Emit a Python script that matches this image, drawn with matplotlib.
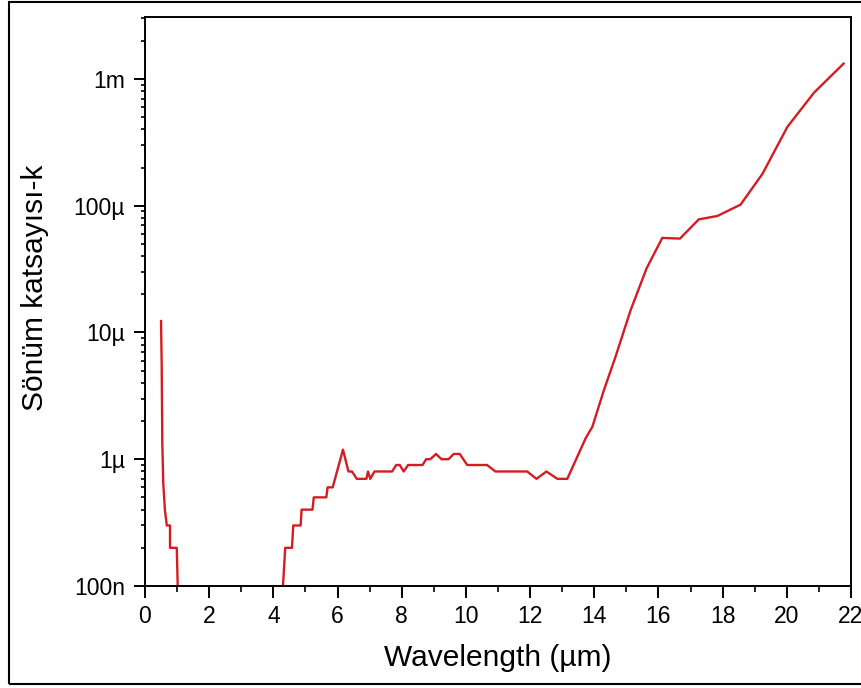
import numpy as np
import matplotlib
matplotlib.use("Agg")
import matplotlib.pyplot as plt
from matplotlib.patches import Rectangle
from matplotlib.ticker import FixedLocator, LogLocator, MultipleLocator, NullFormatter

plt.rcParams['font.family'] = ['Liberation Sans', 'DejaVu Sans']

# wavelength (um) and extinction coefficient k (in units of 1e-6)
# short-wavelength branch
wl_a = [0.50, 0.52, 0.54, 0.57, 0.62, 0.68, 0.78, 0.78, 0.99, 1.02]
k_a = [12.3, 5.7, 1.33, 0.64, 0.40, 0.30, 0.30, 0.20, 0.20, 0.10]

# long-wavelength branch
wl_b = [4.30, 4.37, 4.58, 4.62, 4.85, 4.88, 5.22, 5.26, 5.65, 5.69, 5.85,
        6.17, 6.34, 6.45, 6.60, 6.90, 6.95, 7.02, 7.15, 7.70, 7.83, 7.94,
        8.06, 8.20, 8.65, 8.76, 8.89, 9.07, 9.24, 9.46, 9.62, 9.81, 10.04,
        10.66, 10.92, 11.91, 12.20, 12.51, 12.85, 13.16, 13.73, 13.94, 14.30,
        14.66, 15.13, 15.63, 16.12, 16.67, 17.26, 17.84, 18.56, 19.24, 20.02,
        20.85, 21.77]
k_b = [0.10, 0.20, 0.20, 0.30, 0.30, 0.40, 0.40, 0.50, 0.50, 0.60, 0.60,
       1.19, 0.80, 0.80, 0.70, 0.70, 0.80, 0.70, 0.80, 0.80, 0.90, 0.90,
       0.80, 0.90, 0.90, 1.00, 1.00, 1.10, 1.00, 1.00, 1.10, 1.10, 0.90,
       0.90, 0.80, 0.80, 0.70, 0.80, 0.70, 0.70, 1.46, 1.80, 3.5,
       6.4, 14.9, 32.0, 55.7, 55.0, 78.0, 83.0, 102.0, 178.0, 419.0,
       780.0, 1320.0]

ytick_vals = [1e-7, 1e-6, 1e-5, 1e-4, 1e-3]
ytick_labels = ['100n', '1µ', '10µ', '100µ', '1m']

wl = np.array(wl_a + [np.nan] + wl_b)
k = np.array(k_a + [np.nan] + k_b) * 1e-6

fig = plt.figure(figsize=(8.62, 6.88), dpi=100)
ax = fig.add_axes([0.1682, 0.1483, 0.8190, 0.8270])

ax.plot(wl, k, color='#d41c22', lw=1.7)

ax.set_yscale('log')
ax.set_xlim(0, 22)
ax.set_ylim(1e-7, 3.08e-3)

ax.xaxis.set_major_locator(MultipleLocator(2))
ax.xaxis.set_minor_locator(MultipleLocator(1))
ax.yaxis.set_major_locator(FixedLocator(ytick_vals))
ax.set_yticklabels(ytick_labels)
ax.yaxis.set_minor_locator(LogLocator(base=10, subs=np.arange(2, 10)))
ax.yaxis.set_minor_formatter(NullFormatter())

ax.tick_params(axis='x', which='major', direction='out', length=8.5, width=1.4,
               labelsize=16.5, pad=5)
ax.tick_params(axis='x', which='minor', direction='out', length=4.5, width=1.2)
ax.tick_params(axis='y', which='major', direction='out', length=8, width=1.4,
               labelsize=16.5, pad=6.5)
ax.tick_params(axis='y', which='minor', direction='out', length=3, width=1.2)
ax.tick_params(top=False, right=False)
for s in ax.spines.values():
    s.set_linewidth(1.4)

ax.set_xlabel('Wavelength (µm)', fontsize=21.5, va='baseline')
ax.xaxis.set_label_coords(0.5, -0.1405)
ax.set_ylabel('Sönüm katsayısı-k', fontsize=21.5, va='baseline')
ax.yaxis.set_label_coords(-0.1445, 0.524)

# outer frame of the figure (right edge runs off the canvas)
fig.patches.append(Rectangle((9 / 862, 4 / 688), 870 / 862, 682 / 688,
                             transform=fig.transFigure, fill=False,
                             edgecolor='black', lw=1.5))

fig.savefig('out.png', dpi=100)
